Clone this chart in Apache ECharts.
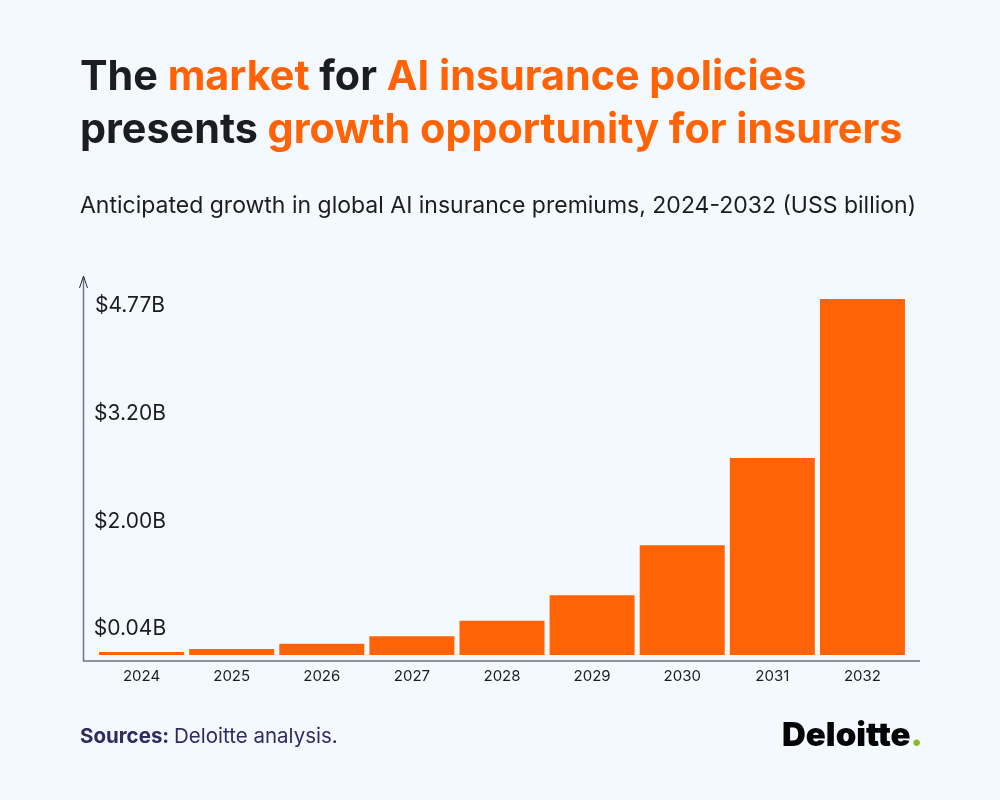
<!DOCTYPE html>
<html>
<head>
<meta charset="utf-8">
<style>
  html, body { margin: 0; padding: 0; background: #f4f9ff; }
  #chart { width: 1000px; height: 800px; }
</style>
<script src="https://cdn.jsdelivr.net/npm/echarts@6/dist/echarts.min.js"></script>
</head>
<body>
<div id="chart"></div>
<script>
var years = ['2024', '2025', '2026', '2027', '2028', '2029', '2030', '2031', '2032'];
var premiums = [0.04, 0.08, 0.15, 0.25, 0.46, 0.80, 1.47, 2.64, 4.77];
var tickLabels = ['$0.04B', '$2.00B', '$3.20B', '$4.77B'];

var ORANGE = '#ff6305';
var DARK = '#1b1d22';
var FONT = 'Inter, "Noto Sans", sans-serif';

var chart = echarts.init(document.getElementById('chart'), null, { renderer: 'canvas' });

var titleRich = {
  d: { fontFamily: FONT, fontSize: 41.3, fontWeight: 700, color: DARK, lineHeight: 53 },
  o: { fontFamily: FONT, fontSize: 41.3, fontWeight: 700, color: ORANGE, lineHeight: 53 }
};

var option = {
  backgroundColor: '#f4f9ff',
  animation: false,
  title: [
    {
      left: 80, top: 51, padding: 0,
      text: '{d|The }{o|market}{d| for }{o|AI insurance policies}\n{d|presents }{o|growth opportunity for insurers}',
      textStyle: { rich: titleRich }
    },
    {
      left: 80, top: 195, padding: 0,
      text: 'Anticipated growth in global AI insurance premiums, 2024-2032 (USS billion)',
      textStyle: { fontFamily: FONT, fontSize: 23, fontWeight: 400, color: DARK }
    },
    {
      left: 80, top: 726, padding: 0,
      text: '{b|Sources: }{n|Deloitte analysis.}',
      textStyle: {
        rich: {
          b: { fontFamily: FONT, fontSize: 20.5, fontWeight: 700, color: '#2b2d5c' },
          n: { fontFamily: FONT, fontSize: 20.5, fontWeight: 400, color: '#2b2d5c' }
        }
      }
    },
    {
      left: 782, top: 720, padding: 0,
      text: '{k|Deloitte}{g|.}',
      textStyle: {
        rich: {
          k: { fontFamily: 'Inter, sans-serif', fontSize: 33, fontWeight: 900, color: '#050505' },
          g: { fontFamily: 'Inter, sans-serif', fontSize: 33, fontWeight: 900, color: '#86bc25' }
        }
      }
    }
  ],
  grid: [
    { left: 96.5, width: 811, top: 299, height: 356 },
    { left: 130, width: 10, top: 252, height: 431 }
  ],
  xAxis: [
    {
      type: 'category', gridIndex: 0, data: years,
      axisLine: { show: false }, axisTick: { show: false },
      axisLabel: { margin: 14, fontFamily: FONT, fontSize: 15, color: DARK }
    },
    { type: 'value', gridIndex: 1, show: false }
  ],
  yAxis: [
    { type: 'value', gridIndex: 0, min: 0, max: 4.77, show: false },
    {
      type: 'category', gridIndex: 1, data: tickLabels,
      axisLine: { show: false }, axisTick: { show: false }, splitLine: { show: false },
      axisLabel: { margin: 0, align: 'center', fontFamily: FONT, fontSize: 21, color: DARK }
    }
  ],
  series: [
    {
      type: 'bar', xAxisIndex: 0, yAxisIndex: 0,
      data: premiums, barWidth: 85,
      itemStyle: { color: ORANGE }
    }
  ],
  graphic: [
    {
      type: 'polyline', silent: true,
      shape: { points: [[83.5, 277], [83.5, 661], [920, 661]] },
      style: { fill: null, stroke: '#71747d', lineWidth: 1.5 }
    },
    {
      type: 'polyline', silent: true,
      shape: { points: [[79.5, 288], [83.5, 276], [87.5, 288]] },
      style: { fill: null, stroke: '#2a2c33', lineWidth: 1 }
    }
  ]
};

chart.setOption(option);
</script>
</body>
</html>
